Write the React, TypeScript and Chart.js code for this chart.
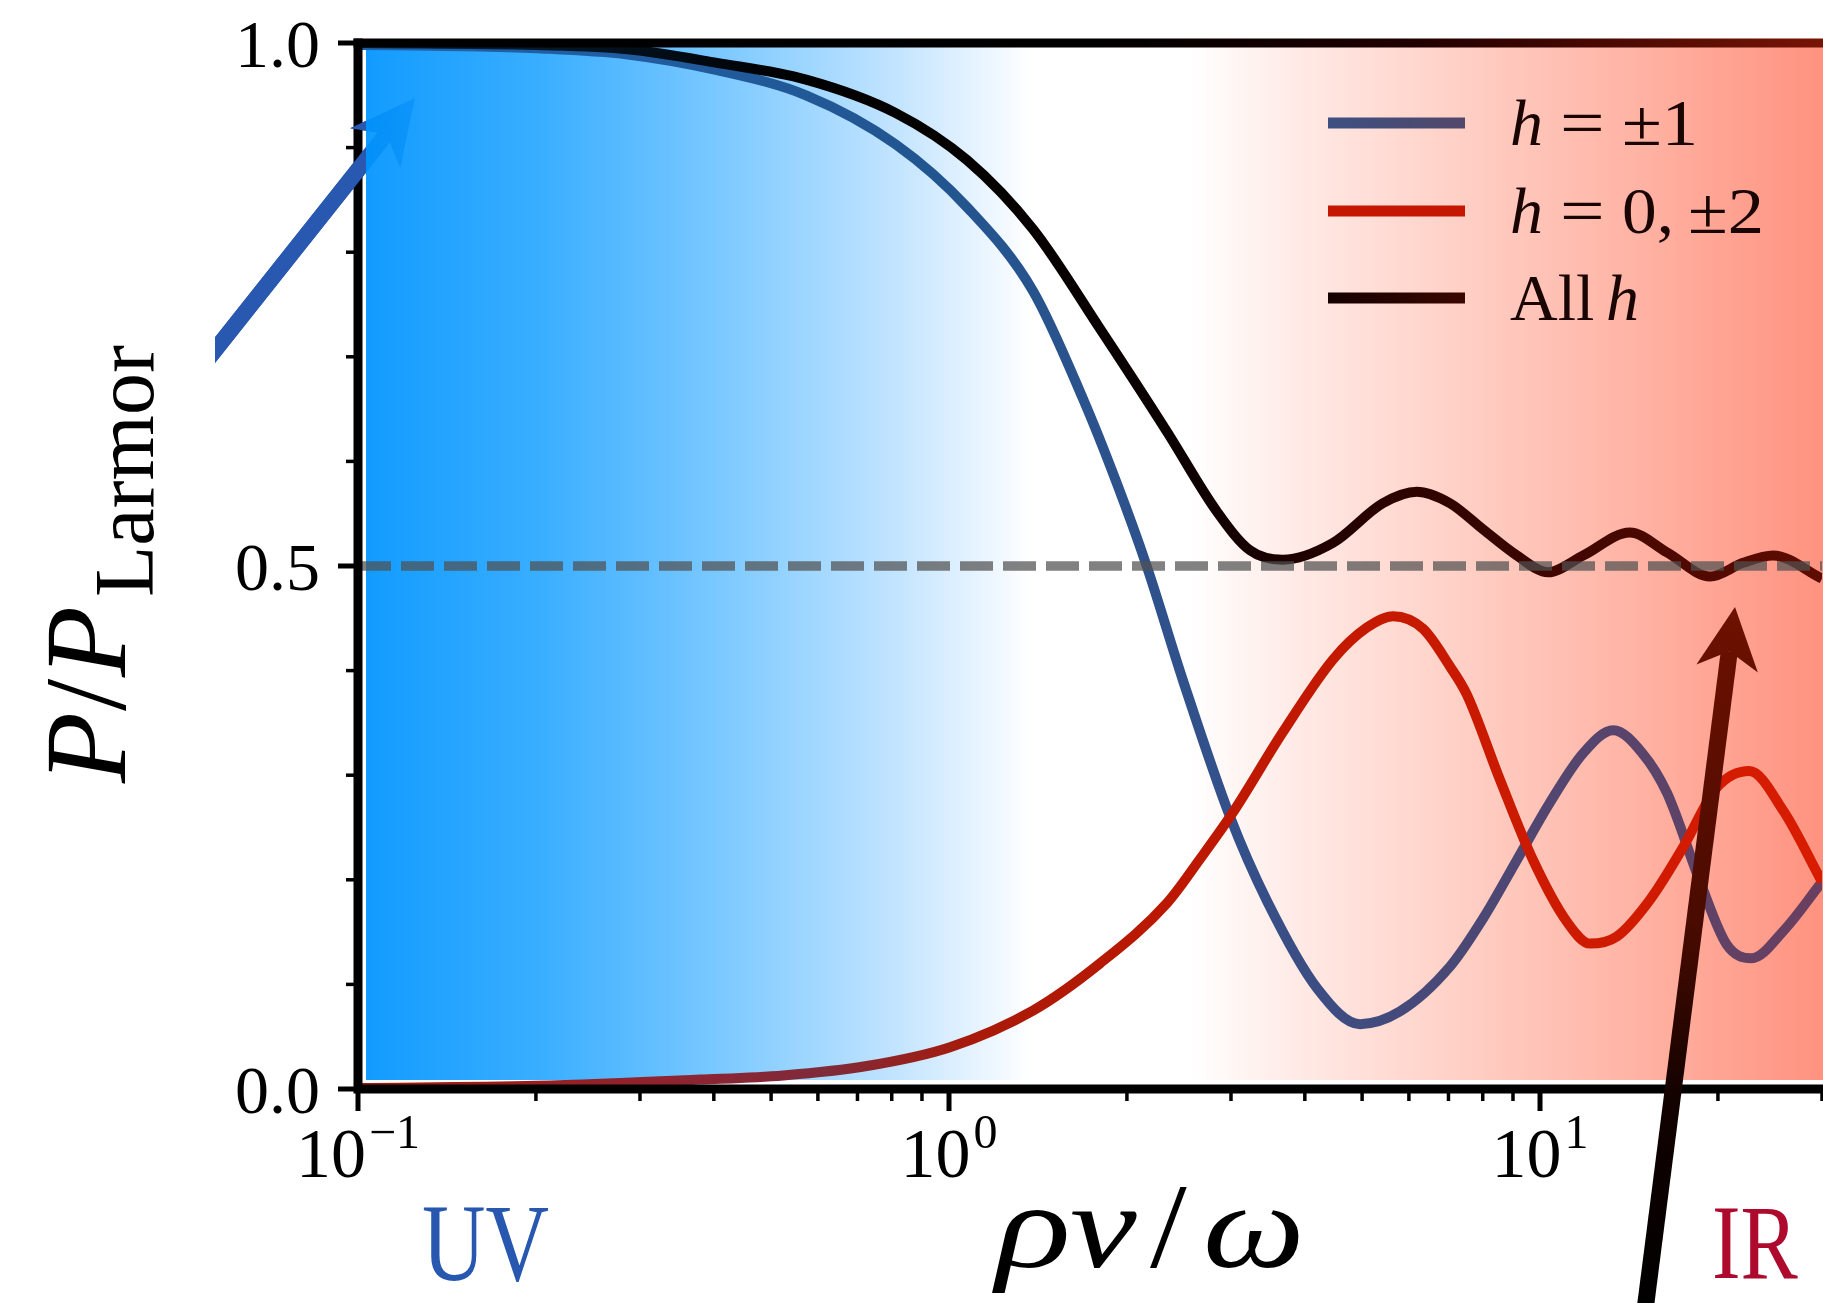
import React, { useEffect, useRef } from "react";
import { Chart, registerables } from "chart.js";

Chart.register(...registerables);

const CANVAS_W = 1823;
const CANVAS_H = 1303;

// ---------------- data ----------------
const xMin = 0.1;
const xMax = 30;
const yMin = 0;
const yMax = 1;

const yMajorTicks = [0, 0.5, 1.0];
const yTickLabels = ["0.0", "0.5", "1.0"];
const yMinorTicks = [0.1, 0.2, 0.3, 0.4, 0.6, 0.7, 0.8, 0.9];
const xMajorTicks = [0.1, 1, 10];
const xTickBases = ["10", "10", "10"];
const xTickExponents = ["\u22121", "0", "1"];
const xMinorTicks = [0.2, 0.3, 0.4, 0.5, 0.6, 0.7, 0.8, 0.9, 2, 3, 4, 5, 6, 7, 8, 9, 20, 30];

// h = ±1
const helicity1X = [0.1, 0.15, 0.2, 0.286, 0.405, 0.573, 0.813, 1.073, 1.387, 1.685, 1.92, 2.16, 2.49, 2.99, 3.45, 4.2, 4.96, 5.79, 7.04, 8.01, 9.14, 10.4, 11.83, 13.3, 14.9, 16.4, 18.66, 20.7, 22.8, 25.8, 30];
const helicity1Y = [0.998, 0.997, 0.995, 0.989, 0.974, 0.95, 0.903, 0.843, 0.763, 0.66, 0.58, 0.5, 0.39, 0.26, 0.18, 0.096, 0.062, 0.074, 0.117, 0.163, 0.219, 0.274, 0.321, 0.343, 0.321, 0.283, 0.198, 0.138, 0.125, 0.151, 0.198];

// h = 0, ±2
const helicity02X = [0.1, 0.2, 0.379, 0.524, 0.726, 1.004, 1.387, 1.8, 2.34, 2.66, 3.02, 3.67, 4.47, 5.09, 5.64, 6.34, 7.04, 7.52, 8.55, 9.73, 11.1, 12.15, 13.5, 15.35, 17.5, 19.9, 22.6, 25.8, 30];
const helicity02Y = [0.001, 0.003, 0.009, 0.013, 0.022, 0.04, 0.075, 0.12, 0.178, 0.22, 0.264, 0.341, 0.411, 0.441, 0.452, 0.44, 0.404, 0.377, 0.296, 0.219, 0.16, 0.139, 0.146, 0.181, 0.232, 0.288, 0.304, 0.266, 0.198];

// all h
const allHX = [0.1, 0.2, 0.286, 0.405, 0.573, 0.813, 1.073, 1.387, 1.8, 2.34, 2.84, 3.23, 3.67, 4.46, 5.42, 6.19, 7.04, 8.01, 9.14, 10.31, 11.83, 14.19, 16.4, 19.4, 22.06, 24.8, 30];
const allHY = [1.0, 0.998, 0.994, 0.981, 0.965, 0.933, 0.888, 0.822, 0.727, 0.628, 0.552, 0.515, 0.506, 0.522, 0.56, 0.571, 0.56, 0.535, 0.51, 0.494, 0.51, 0.532, 0.513, 0.49, 0.503, 0.51, 0.488];

// reference level (dashed)
const referenceX = [0.1, 30];
const referenceY = [0.5, 0.5];

// ---------------- styles ----------------
const SERIF = '"Liberation Serif", "DejaVu Serif", serif';

const blueStops: [number, string][] = [
  [0, "#1f63b0"], [0.4, "#22558f"], [0.6, "#34508a"], [0.75, "#4a4876"], [1, "#6a3f5f"],
];
const redStops: [number, string][] = [
  [0, "#a51a10"], [0.25, "#8a2535"], [0.32, "#7e2b3a"], [0.42, "#a81a0a"], [0.55, "#bb1800"], [1, "#d81c00"],
];
const blackStops: [number, string][] = [
  [0, "#062a4a"], [0.3, "#000000"], [0.55, "#0a0000"], [0.7, "#2a0300"], [1, "#600c00"],
];
// background stops by absolute pixel x
const bgStops: [number, string][] = [
  [366, "rgb(0,148,255)"], [540, "rgb(42,168,255)"], [717, "rgb(112,196,255)"],
  [896, "rgb(190,226,255)"], [1007, "rgb(243,249,255)"], [1030, "rgb(255,255,255)"],
  [1190, "rgb(255,255,255)"], [1300, "rgb(255,232,227)"], [1467, "rgb(255,203,192)"],
  [1633, "rgb(255,174,158)"], [1823, "rgb(255,138,118)"],
];

function hGradient(chart: any, stops: [number, string][]) {
  const a = chart.chartArea;
  if (!a) return stops[0][1];
  const g = chart.ctx.createLinearGradient(a.left, 0, a.right, 0);
  stops.forEach(([o, c]) => g.addColorStop(o, c));
  return g;
}

function toPoints(xs: number[], ys: number[]) {
  return xs.map((x, i) => ({ x, y: ys[i] }));
}

function drawArrow(ctx: CanvasRenderingContext2D, x0: number, y0: number, x1: number, y1: number,
  shaftW: number, headLen: number, headW: number, fill: any) {
  const dx = x1 - x0, dy = y1 - y0;
  const L = Math.hypot(dx, dy);
  const ux = dx / L, uy = dy / L;
  const nx = -uy, ny = ux;
  const bx = x1 - ux * headLen, by = y1 - uy * headLen;
  const notch = headLen * 0.72;
  const kx = x1 - ux * notch, ky = y1 - uy * notch;
  ctx.fillStyle = fill;
  ctx.beginPath();
  ctx.moveTo(x0 + nx * shaftW / 2, y0 + ny * shaftW / 2);
  ctx.lineTo(kx + nx * shaftW / 2, ky + ny * shaftW / 2);
  ctx.lineTo(kx - nx * shaftW / 2, ky - ny * shaftW / 2);
  ctx.lineTo(x0 - nx * shaftW / 2, y0 - ny * shaftW / 2);
  ctx.closePath();
  ctx.fill();
  ctx.beginPath();
  ctx.moveTo(x1, y1);
  ctx.lineTo(bx + nx * headW / 2, by + ny * headW / 2);
  ctx.lineTo(kx, ky);
  ctx.lineTo(bx - nx * headW / 2, by - ny * headW / 2);
  ctx.closePath();
  ctx.fill();
}

function drawBlueArrow(ctx: CanvasRenderingContext2D, clipL: number, clipR: number) {
  ctx.save();
  ctx.beginPath();
  ctx.rect(clipL, 0, clipR - clipL, CANVAS_H);
  ctx.clip();
  drawArrow(ctx, 150, 432, 415, 98, 16, 64, 64, "#2858b0");
  ctx.restore();
}

function txt(ctx: CanvasRenderingContext2D, s: string, x: number, y: number, font: string,
  color: string, align: CanvasTextAlign = "left", sx = 1) {
  ctx.save();
  ctx.font = font;
  ctx.fillStyle = color;
  ctx.textAlign = align;
  ctx.textBaseline = "alphabetic";
  ctx.translate(x, y);
  ctx.scale(sx, 1);
  ctx.fillText(s, 0, 0);
  ctx.restore();
}

const decorPlugin = {
  id: "decor",
  beforeDraw(chart: any) {
    const ctx: CanvasRenderingContext2D = chart.ctx;
    const a = chart.chartArea;
    ctx.save();
    ctx.fillStyle = "#ffffff";
    ctx.fillRect(0, 0, CANVAS_W, CANVAS_H);
    drawBlueArrow(ctx, 215, CANVAS_W);
    const g = ctx.createLinearGradient(366, 0, CANVAS_W, 0);
    bgStops.forEach(([px, c]) => g.addColorStop((px - 366) / (CANVAS_W - 366), c));
    ctx.globalAlpha = 0.93;
    ctx.fillStyle = g;
    ctx.fillRect(a.left + 8, a.top, CANVAS_W - (a.left + 8), a.bottom - a.top - 9);
    ctx.restore();
  },
  afterDatasetsDraw(chart: any) {
    const ctx: CanvasRenderingContext2D = chart.ctx;
    const a = chart.chartArea;
    const xs = chart.scales.x;
    const ys = chart.scales.y;
    ctx.save();

    // spines
    ctx.lineCap = "butt";
    ctx.lineWidth = 9;
    ctx.strokeStyle = "#000";
    ctx.beginPath();
    ctx.moveTo(a.left, a.top - 4.5);
    ctx.lineTo(a.left, a.bottom + 4.5);
    ctx.moveTo(a.left - 4.5, a.bottom);
    ctx.lineTo(CANVAS_W, a.bottom);
    ctx.stroke();
    const tg = ctx.createLinearGradient(a.left, 0, CANVAS_W, 0);
    tg.addColorStop(0, "#000");
    tg.addColorStop(0.5, "#000");
    tg.addColorStop(0.72, "#200000");
    tg.addColorStop(1, "#781405");
    ctx.strokeStyle = tg;
    ctx.beginPath();
    ctx.moveTo(a.left - 4.5, a.top);
    ctx.lineTo(CANVAS_W, a.top);
    ctx.stroke();

    // ticks
    ctx.strokeStyle = "#000";
    ctx.lineWidth = 5;
    yMajorTicks.forEach((v) => {
      const py = ys.getPixelForValue(v);
      ctx.beginPath();
      ctx.moveTo(a.left - 20, py);
      ctx.lineTo(a.left, py);
      ctx.stroke();
    });
    xMajorTicks.forEach((v) => {
      const px = xs.getPixelForValue(v);
      ctx.beginPath();
      ctx.moveTo(px, a.bottom);
      ctx.lineTo(px, a.bottom + 22);
      ctx.stroke();
    });
    ctx.lineWidth = 3.5;
    yMinorTicks.forEach((v) => {
      const py = ys.getPixelForValue(v);
      ctx.beginPath();
      ctx.moveTo(a.left - 12, py);
      ctx.lineTo(a.left, py);
      ctx.stroke();
    });
    xMinorTicks.forEach((v) => {
      const px = xs.getPixelForValue(v);
      ctx.beginPath();
      ctx.moveTo(px, a.bottom);
      ctx.lineTo(px, a.bottom + 12);
      ctx.stroke();
    });

    // blue arrow over left spine (outside the shaded area)
    drawBlueArrow(ctx, 215, a.left + 8);

    // tick labels
    yMajorTicks.forEach((v, i) => {
      const py = ys.getPixelForValue(v);
      txt(ctx, yTickLabels[i], 320, py + 24, `68px ${SERIF}`, "#000", "right");
    });
    xMajorTicks.forEach((v, i) => {
      const px = xs.getPixelForValue(v);
      ctx.font = `70px ${SERIF}`;
      const w1 = ctx.measureText(xTickBases[i]).width;
      ctx.font = `48px ${SERIF}`;
      const w2 = ctx.measureText(xTickExponents[i]).width;
      const start = px - (w1 + w2 + 3) / 2;
      txt(ctx, xTickBases[i], start, 1177, `70px ${SERIF}`, "#000");
      txt(ctx, xTickExponents[i], start + w1 + 3, 1148, `48px ${SERIF}`, "#000");
    });

    // legend
    const legendRows = [
      { y: 123, stops: [[0, "#3d5082"], [1, "#52476a"]] },
      { y: 211, stops: [[0, "#c41600"], [1, "#c41600"]] },
      { y: 298, stops: [[0, "#150000"], [1, "#3a0700"]] },
    ];
    legendRows.forEach((r) => {
      const lg = ctx.createLinearGradient(1328, 0, 1465, 0);
      r.stops.forEach(([o, c]: any) => lg.addColorStop(o, c));
      ctx.strokeStyle = lg;
      ctx.lineWidth = 11;
      ctx.beginPath();
      ctx.moveTo(1328, r.y);
      ctx.lineTo(1465, r.y);
      ctx.stroke();
    });
    const itF = `italic 66px ${SERIF}`;
    const upF = `66px ${SERIF}`;
    const tc = "#1a0505";
    txt(ctx, "h", 1510, 145, itF, tc);
    txt(ctx, "=", 1560, 145, upF, tc, "left", 1.2);
    txt(ctx, "\u00b11", 1622, 145, upF, tc, "left", 1.1);
    txt(ctx, "h", 1510, 233, itF, tc);
    txt(ctx, "=", 1560, 233, upF, tc, "left", 1.2);
    txt(ctx, "0,", 1622, 233, upF, tc, "left", 1.05);
    txt(ctx, "\u00b12", 1688, 233, upF, tc, "left", 1.1);
    txt(ctx, "All", 1510, 320, upF, tc);
    txt(ctx, "h", 1606, 320, itF, tc);

    // x axis label  ρv/ω
    const bigIt = `italic 120px ${SERIF}`;
    txt(ctx, "\u03c1", 996, 1267, bigIt, "#000", "left", 1.3);
    txt(ctx, "v", 1070, 1267, bigIt, "#000", "left", 1.25);
    txt(ctx, "/", 1150, 1267, `120px ${SERIF}`, "#000", "left", 1.1);
    txt(ctx, "\u03c9", 1203, 1267, bigIt, "#000", "left", 1.2);

    // y axis label  P/P_Larmor
    ctx.save();
    ctx.translate(125, 783);
    ctx.rotate(-Math.PI / 2);
    ctx.fillStyle = "#000";
    ctx.textBaseline = "alphabetic";
    ctx.font = `italic 116px ${SERIF}`;
    ctx.fillText("P", 0, 0);
    ctx.font = `116px ${SERIF}`;
    ctx.fillText("/", 72, 0);
    ctx.font = `italic 116px ${SERIF}`;
    ctx.fillText("P", 106, 0);
    ctx.font = `84px ${SERIF}`;
    ctx.fillText("Larmor", 186, 28);
    ctx.restore();

    // UV / IR
    txt(ctx, "UV", 422, 1280, `110px ${SERIF}`, "#2857b0", "left", 0.8);
    txt(ctx, "IR", 1712, 1278, `106px ${SERIF}`, "#ae0a2e", "left", 0.81);

    // IR arrow
    const ag = ctx.createLinearGradient(1645, 1310, 1735, 607);
    ag.addColorStop(0, "#000000");
    ag.addColorStop(0.3, "#120200");
    ag.addColorStop(0.55, "#4a0b00");
    ag.addColorStop(1, "#6e1100");
    drawArrow(ctx, 1645, 1310, 1735, 607, 17, 62, 62, ag);

    ctx.restore();
  },
};

export default function App() {
  const canvasRef = useRef<HTMLCanvasElement | null>(null);

  useEffect(() => {
    const canvas = canvasRef.current;
    if (!canvas) return;
    const chart = new Chart(canvas, {
      type: "line",
      data: {
        datasets: [
          {
            label: "reference",
            data: toPoints(referenceX, referenceY),
            borderColor: "rgba(80,80,80,0.72)",
            borderWidth: 9.5,
            borderDash: [33, 10],
            pointRadius: 0,
            fill: false,
            tension: 0,
          },
          {
            label: "All h",
            data: toPoints(allHX, allHY),
            borderColor: (c: any) => hGradient(c.chart, blackStops),
            borderWidth: 10,
            pointRadius: 0,
            fill: false,
            cubicInterpolationMode: "monotone",
          },
          {
            label: "h = 0, \u00b12",
            data: toPoints(helicity02X, helicity02Y),
            borderColor: (c: any) => hGradient(c.chart, redStops),
            borderWidth: 10,
            pointRadius: 0,
            fill: false,
            cubicInterpolationMode: "monotone",
          },
          {
            label: "h = \u00b11",
            data: toPoints(helicity1X, helicity1Y),
            borderColor: (c: any) => hGradient(c.chart, blueStops),
            borderWidth: 10,
            pointRadius: 0,
            fill: false,
            cubicInterpolationMode: "monotone",
          },
        ],
      },
      options: {
        responsive: false,
        animation: false,
        devicePixelRatio: 1,
        layout: { padding: { left: 358, top: 43, right: 1, bottom: 214 } },
        scales: {
          x: { type: "logarithmic", min: xMin, max: xMax, display: false },
          y: { type: "linear", min: yMin, max: yMax, display: false },
        },
        plugins: {
          legend: { display: false },
          tooltip: { enabled: false },
        },
        elements: { point: { radius: 0 }, line: { borderJoinStyle: "round" } },
      } as any,
      plugins: [decorPlugin],
    });
    return () => chart.destroy();
  }, []);

  return (
    <div style={{ position: "absolute", left: 0, top: 0, width: CANVAS_W, height: CANVAS_H }}>
      <canvas ref={canvasRef} width={CANVAS_W} height={CANVAS_H} style={{ display: "block" }} />
    </div>
  );
}
